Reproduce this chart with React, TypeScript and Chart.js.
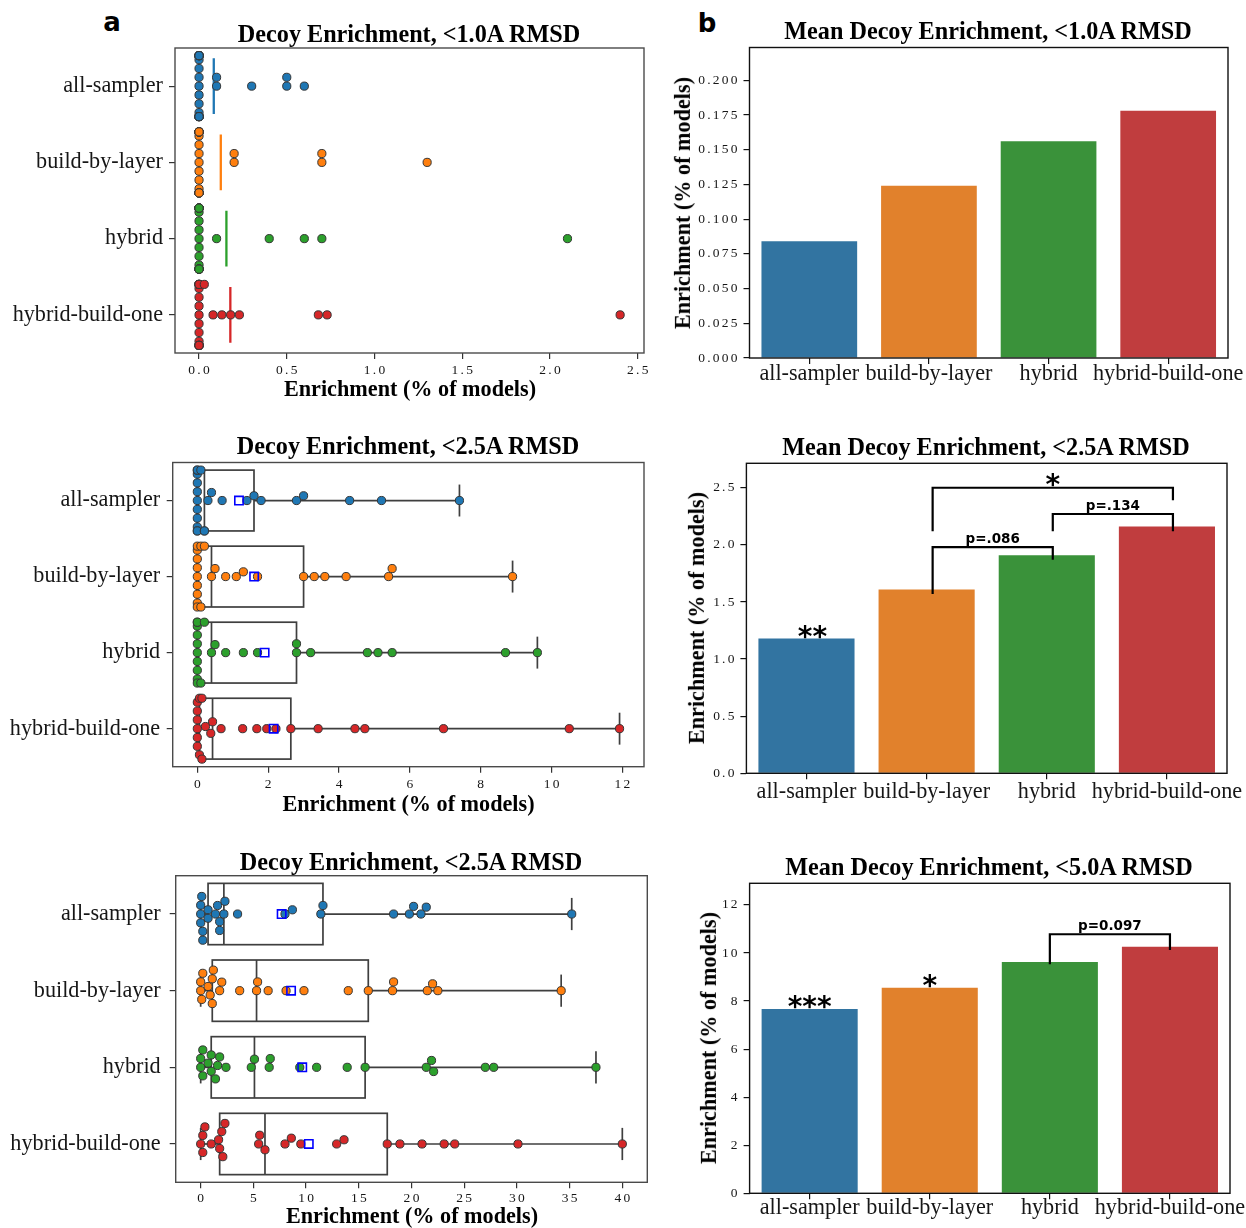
import React, { useEffect, useRef } from 'react';
import { Chart, registerables } from 'chart.js';

Chart.register(...registerables);

// ---------------- data ----------------
const categories = ['all-sampler', 'build-by-layer', 'hybrid', 'hybrid-build-one'];

// panel a (top): Decoy Enrichment, <1.0A RMSD
const allSampler10 = [0, 0, 0, 0, 0, 0, 0, 0, 0, 0, 0, 0, 0, 0, 0, 0, 0, 0, 0, 0.1, 0.1, 0.3, 0.5, 0.5, 0.6];
const buildByLayer10 = [0, 0, 0, 0, 0, 0, 0, 0, 0, 0, 0, 0, 0, 0, 0, 0, 0, 0, 0, 0, 0.2, 0.2, 0.7, 0.7, 1.3];
const hybrid10 = [0, 0, 0, 0, 0, 0, 0, 0, 0, 0, 0, 0, 0, 0, 0, 0, 0, 0, 0, 0, 0.1, 0.4, 0.6, 0.7, 2.1];
const hybridBuildOne10 = [0, 0, 0, 0, 0, 0, 0, 0, 0, 0, 0, 0, 0, 0, 0, 0, 0, 0.03, 0.08, 0.13, 0.18, 0.23, 0.68, 0.73, 2.4];

// panel a (middle): Decoy Enrichment, <2.5A RMSD
const allSampler25 = [0, 0, 0, 0, 0, 0, 0, 0, 0, 0, 0, 0.1, 0.2, 0.2, 0.3, 0.4, 0.7, 1.4, 1.6, 1.8, 2.8, 3.0, 4.3, 5.2, 7.4];
const buildByLayer25 = [0, 0, 0, 0, 0, 0, 0, 0, 0, 0.1, 0.1, 0.2, 0.4, 0.5, 0.8, 1.1, 1.3, 1.7, 3.0, 3.3, 3.6, 4.2, 5.4, 5.5, 8.9];
const hybrid25 = [0, 0, 0, 0, 0, 0, 0, 0, 0, 0, 0.1, 0.2, 0.4, 0.5, 0.8, 1.3, 1.7, 2.8, 2.8, 3.2, 4.8, 5.1, 5.5, 8.7, 9.6];
const hybridBuildOne25 = [0, 0, 0, 0, 0, 0, 0.06, 0.06, 0.13, 0.13, 0.23, 0.38, 0.43, 0.67, 1.28, 1.68, 1.96, 2.22, 2.64, 3.41, 4.45, 4.73, 6.95, 10.5, 11.92];

// panel a (bottom): titled "<2.5A RMSD" in the figure (the 5.0A data)
const allSampler50 = [0, 0, 0, 0.1, 0.2, 0.2, 0.7, 0.7, 1.4, 1.6, 1.8, 1.8, 2.2, 2.3, 3.5, 8.0, 8.7, 11.4, 11.6, 18.3, 19.8, 20.2, 20.9, 21.4, 35.2];
const buildByLayer50 = [0, 0, 0.1, 0.2, 0.7, 0.9, 1.1, 1.1, 1.2, 1.8, 2.0, 3.7, 5.3, 5.4, 6.4, 8.1, 9.8, 14.0, 15.9, 18.2, 18.3, 21.5, 22.0, 22.5, 34.2];
const hybrid50 = [0, 0, 0.2, 0.2, 0.7, 1.0, 1.0, 1.4, 1.6, 1.8, 2.4, 4.8, 5.1, 6.5, 6.6, 9.4, 11.0, 13.9, 15.6, 21.4, 21.9, 22.1, 27.0, 27.8, 37.5];
const hybridBuildOne50 = [0, 0.2, 0.2, 0.4, 1.0, 1.7, 1.8, 2.0, 2.1, 2.3, 5.5, 5.6, 6.1, 8.0, 8.6, 9.5, 12.9, 13.6, 17.7, 18.9, 21.0, 23.1, 24.1, 30.1, 40.0];

const xTicks10 = [0, 0.5, 1.0, 1.5, 2.0, 2.5];
const xTicks25 = [0, 2, 4, 6, 8, 10, 12];
const xTicks50 = [0, 5, 10, 15, 20, 25, 30, 35, 40];

// panel b: mean enrichment bars
const meanEnrich10 = [0.084, 0.124, 0.156, 0.178];
const meanEnrich25 = [1.18, 1.61, 1.91, 2.16];
const meanEnrich50 = [7.67, 8.55, 9.63, 10.26];
const yTicksB10 = [0, 0.025, 0.05, 0.075, 0.1, 0.125, 0.15, 0.175, 0.2];
const yTicksB25 = [0, 0.5, 1.0, 1.5, 2.0, 2.5];
const yTicksB50 = [0, 2, 4, 6, 8, 10, 12];

const sigStars10 = ['', '', '', ''];
const sigStars25 = ['**', '', '', ''];
const sigStars50 = ['***', '*', '', ''];

const bracketFrom25 = [1, 2, 1];
const bracketTo25 = [2, 3, 3];
const bracketTop25 = [1.98, 2.27, 2.5];
const bracketLeftEnd25 = [1.57, 2.12, 2.12];
const bracketRightEnd25 = [1.87, 2.12, 2.39];
const bracketText25 = ['p=.086', 'p=.134', '*'];

const bracketFrom50 = [2];
const bracketTo50 = [3];
const bracketTop50 = [10.78];
const bracketLeftEnd50 = [9.53];
const bracketRightEnd50 = [10.12];
const bracketText50 = ['p=0.097'];

// ---------------- styles ----------------
const pointColors = ['#1f77b4', '#ff7f0e', '#2ca02c', '#d62728'];
const barColors = ['#3274a1', '#e1812c', '#3a923a', '#c03d3e'];
const SERIF = '"Liberation Serif", "Times New Roman", serif';
const SANS = '"DejaVu Sans", sans-serif';
const SWARM_R = 4.2;
const STAR_PX = 28;
const PTEXT_PX = 13.5;

type Geom = { left: number; top: number; width: number; height: number; L: number; T: number; R: number; B: number };

function quantile(sorted: number[], p: number) {
  const pos = (sorted.length - 1) * p;
  const lo = Math.floor(pos);
  const hi = Math.ceil(pos);
  return sorted[lo] + (sorted[hi] - sorted[lo]) * (pos - lo);
}
function mean(a: number[]) {
  return a.reduce((s, v) => s + v, 0) / a.length;
}

// seaborn-like beeswarm in pixel space (offsets along the categorical axis)
function beeswarm(px: number[], r: number): number[] {
  const order = px.map((_, i) => i).sort((a, b) => px[a] - px[b] || a - b);
  const placed: { x: number; y: number }[] = [];
  const out = new Array(px.length).fill(0);
  const d = 2 * r;
  for (const i of order) {
    const x = px[i];
    const neighbors = placed.filter((p) => Math.abs(p.x - x) < d);
    const cands: number[] = [0];
    neighbors.forEach((n, k) => {
      const dx = x - n.x;
      const dy = Math.sqrt(Math.max(d * d - dx * dx, 0)) * 1.05;
      if (k % 2 === 0) cands.push(n.y - dy, n.y + dy);
      else cands.push(n.y + dy, n.y - dy);
    });
    const sorted = cands.map((c, k) => ({ c, k })).sort((a, b) => Math.abs(a.c) - Math.abs(b.c) || a.k - b.k);
    let chosen = sorted[sorted.length - 1].c;
    for (const { c } of sorted) {
      if (neighbors.every((n) => (n.x - x) ** 2 + (n.y - c) ** 2 >= d * d - 1e-6)) {
        chosen = c;
        break;
      }
    }
    placed.push({ x, y: chosen });
    out[i] = chosen;
  }
  return out;
}

function applySwarm(chart: any, groups: number[][]) {
  const xs = chart.scales.x;
  const ys = chart.scales.y;
  const pxPerCat = Math.abs(ys.getPixelForValue(1) - ys.getPixelForValue(0));
  const half = 0.4 * pxPerCat;
  groups.forEach((vals, gi) => {
    const cy = ys.getPixelForValue(gi);
    const offs = beeswarm(vals.map((v) => xs.getPixelForValue(v)), SWARM_R);
    chart.data.datasets[gi].data = vals.map((v, k) => ({
      x: v,
      y: ys.getValueForPixel(cy + Math.max(-half, Math.min(half, offs[k]))),
    }));
  });
  chart.update('none');
}

function framePlugin(color: string, lw: number) {
  return {
    id: 'frame',
    afterDatasetsDraw(chart: any) {
      const a = chart.chartArea;
      const ctx = chart.ctx;
      ctx.save();
      ctx.strokeStyle = color;
      ctx.lineWidth = lw;
      ctx.strokeRect(a.left, a.top, a.right - a.left, a.bottom - a.top);
      ctx.restore();
    },
  };
}

type TickOpts = {
  xFmt: (v: number) => string;
  xFont: string;
  xSpacing: number;
  xBaseline: number;
  yFmt: (v: number) => string;
  yFont: string;
  ySpacing: number;
  yGap: number;
};
function tickTextPlugin(o: TickOpts) {
  return {
    id: 'tickText',
    afterDraw(chart: any) {
      const ctx = chart.ctx;
      const a = chart.chartArea;
      const xs = chart.scales.x;
      const ys = chart.scales.y;
      ctx.save();
      ctx.fillStyle = '#161616';
      ctx.font = o.xFont;
      ctx.letterSpacing = `${o.xSpacing}px`;
      ctx.textAlign = 'center';
      ctx.textBaseline = 'alphabetic';
      xs.ticks.forEach((t: any, i: number) => {
        ctx.fillText(o.xFmt(t.value), xs.getPixelForTick(i) + o.xSpacing / 2, a.bottom + o.xBaseline);
      });
      ctx.font = o.yFont;
      ctx.letterSpacing = `${o.ySpacing}px`;
      ctx.textAlign = 'right';
      ctx.textBaseline = 'middle';
      ys.ticks.forEach((t: any, i: number) => {
        ctx.fillText(o.yFmt(t.value), a.left - o.yGap + o.ySpacing, ys.getPixelForTick(i));
      });
      ctx.letterSpacing = '0px';
      ctx.restore();
    },
  };
}

function boxPlugin(groups: number[][]) {
  const stats = groups.map((g) => {
    const s = [...g].sort((a, b) => a - b);
    return { min: s[0], q1: quantile(s, 0.25), med: quantile(s, 0.5), q3: quantile(s, 0.75), max: s[s.length - 1] };
  });
  return {
    id: 'boxes',
    beforeDatasetsDraw(chart: any) {
      const ctx = chart.ctx;
      const xs = chart.scales.x;
      const ys = chart.scales.y;
      ctx.save();
      ctx.strokeStyle = '#3f3f3f';
      ctx.lineWidth = 1.7;
      const seg = (x1: number, y1: number, x2: number, y2: number) => {
        ctx.beginPath();
        ctx.moveTo(x1, y1);
        ctx.lineTo(x2, y2);
        ctx.stroke();
      };
      stats.forEach((st, i) => {
        const y0 = ys.getPixelForValue(i);
        const yA = ys.getPixelForValue(i - 0.4);
        const yB = ys.getPixelForValue(i + 0.4);
        const cA = ys.getPixelForValue(i - 0.21);
        const cB = ys.getPixelForValue(i + 0.21);
        const xq1 = xs.getPixelForValue(st.q1);
        const xq3 = xs.getPixelForValue(st.q3);
        const xmed = xs.getPixelForValue(st.med);
        const xmin = xs.getPixelForValue(st.min);
        const xmax = xs.getPixelForValue(st.max);
        ctx.strokeRect(xq1, Math.min(yA, yB), xq3 - xq1, Math.abs(yB - yA));
        seg(xmed, yA, xmed, yB);
        seg(xmin, y0, xq1, y0);
        seg(xq3, y0, xmax, y0);
        seg(xmin, cA, xmin, cB);
        seg(xmax, cA, xmax, cB);
      });
      ctx.restore();
    },
  };
}

function axisCommon(color: string) {
  return {
    ticks: { display: false },
    border: { display: false },
    grid: { display: true, drawOnChartArea: false, drawTicks: true, tickLength: 6, color, lineWidth: 1.2, offset: false },
  };
}

function swarmConfig(p: {
  groups: number[][];
  xMin: number;
  xMax: number;
  xTicks: number[];
  g: Geom;
  box: boolean;
  xFmt: (v: number) => string;
  xBaseline: number;
  yGap: number;
}) {
  const { g } = p;
  const datasets: any[] = p.groups.map((vals, i) => ({
    type: 'scatter',
    data: vals.map((v) => ({ x: v, y: i })),
    pointRadius: 4.1,
    pointBackgroundColor: pointColors[i],
    pointBorderColor: '#353535',
    pointBorderWidth: 1,
    order: 2,
  }));
  if (p.box) {
    datasets.push({
      type: 'scatter',
      data: p.groups.map((vals, i) => ({ x: mean(vals), y: i })),
      pointStyle: 'rect',
      pointRadius: 5.9,
      pointBackgroundColor: 'rgba(0,0,0,0)',
      pointBorderColor: '#0000ff',
      pointBorderWidth: 1.6,
      order: 1,
    });
  } else {
    p.groups.forEach((vals, i) => {
      const m = mean(vals);
      datasets.push({
        type: 'scatter',
        data: [
          { x: m, y: i - 0.365 },
          { x: m, y: i + 0.365 },
        ],
        showLine: true,
        borderColor: pointColors[i],
        borderWidth: 2.3,
        pointRadius: 0,
        order: 3,
      });
    });
  }
  const plugins: any[] = [
    framePlugin('#4a4a4a', 1.4),
    tickTextPlugin({
      xFmt: p.xFmt,
      xFont: `13.5px ${SERIF}`,
      xSpacing: 2.3,
      xBaseline: p.xBaseline,
      yFmt: (v) => categories[v],
      yFont: `22.2px ${SERIF}`,
      ySpacing: 0,
      yGap: p.yGap,
    }),
  ];
  if (p.box) plugins.unshift(boxPlugin(p.groups));
  return {
    type: 'scatter',
    data: { datasets },
    plugins,
    options: {
      responsive: false,
      maintainAspectRatio: false,
      devicePixelRatio: 1,
      animation: false,
      events: [],
      layout: { padding: { top: g.T - g.top, right: g.left + g.width - g.R, bottom: 0, left: 0 } },
      plugins: { legend: { display: false }, tooltip: { enabled: false }, title: { display: false } },
      scales: {
        x: {
          type: 'linear',
          min: p.xMin,
          max: p.xMax,
          afterBuildTicks: (s: any) => {
            s.ticks = p.xTicks.map((v) => ({ value: v }));
          },
          afterFit: (s: any) => {
            s.height = g.top + g.height - g.B;
          },
          ...axisCommon('#333333'),
        },
        y: {
          type: 'linear',
          min: -0.5,
          max: 3.5,
          reverse: true,
          afterBuildTicks: (s: any) => {
            s.ticks = categories.map((_, i) => ({ value: i }));
          },
          afterFit: (s: any) => {
            s.width = g.L - g.left;
          },
          ...axisCommon('#333333'),
        },
      },
    },
  };
}

function annotPlugin(
  values: number[],
  stars: string[],
  br: { from: number[]; to: number[]; top: number[]; leftEnd: number[]; rightEnd: number[]; text: string[] },
  shift: number
) {
  return {
    id: 'annot',
    afterDatasetsDraw(chart: any) {
      const ctx = chart.ctx;
      const xs = chart.scales.x;
      const ys = chart.scales.y;
      const starLift = 0.53 * STAR_PX;
      ctx.save();
      ctx.fillStyle = '#000';
      ctx.strokeStyle = '#000';
      ctx.textAlign = 'center';
      ctx.textBaseline = 'alphabetic';
      stars.forEach((s, i) => {
        if (!s) return;
        ctx.font = `bold ${STAR_PX}px ${SANS}`;
        ctx.fillText(s, xs.getPixelForValue(i + shift), ys.getPixelForValue(values[i]) - 7.5 + starLift);
      });
      br.from.forEach((f, k) => {
        const x1 = xs.getPixelForValue(f + shift);
        const x2 = xs.getPixelForValue(br.to[k] + shift);
        const yt = ys.getPixelForValue(br.top[k]);
        ctx.lineWidth = 2.2;
        ctx.lineJoin = 'miter';
        ctx.beginPath();
        ctx.moveTo(x1, ys.getPixelForValue(br.leftEnd[k]));
        ctx.lineTo(x1, yt);
        ctx.lineTo(x2, yt);
        ctx.lineTo(x2, ys.getPixelForValue(br.rightEnd[k]));
        ctx.stroke();
        const t = br.text[k];
        if (t.startsWith('p')) {
          ctx.font = `bold ${PTEXT_PX}px ${SANS}`;
          ctx.fillText(t, (x1 + x2) / 2, yt - 4.5);
        } else {
          ctx.font = `bold ${STAR_PX}px ${SANS}`;
          ctx.fillText(t, (x1 + x2) / 2, yt - 9 + starLift);
        }
      });
      ctx.restore();
    },
  };
}

function barConfig(p: {
  values: number[];
  yMax: number;
  yTicks: number[];
  yFmt: (v: number) => string;
  g: Geom;
  xBaseline: number;
  stars: string[];
  br: { from: number[]; to: number[]; top: number[]; leftEnd: number[]; rightEnd: number[]; text: string[] };
  shift: number;
}) {
  const { g } = p;
  return {
    type: 'bar',
    data: {
      labels: categories,
      datasets: [
        {
          data: p.values,
          backgroundColor: barColors,
          borderWidth: 0,
          barPercentage: 0.8,
          categoryPercentage: 1.0,
        },
      ],
    },
    plugins: [
      annotPlugin(p.values, p.stars, p.br, p.shift),
      framePlugin('#111111', 1.4),
      tickTextPlugin({
        xFmt: (v) => categories[v],
        xFont: `22.2px ${SERIF}`,
        xSpacing: 0,
        xBaseline: p.xBaseline,
        yFmt: p.yFmt,
        yFont: `13.5px ${SERIF}`,
        ySpacing: 2.2,
        yGap: 12,
      }),
    ],
    options: {
      responsive: false,
      maintainAspectRatio: false,
      devicePixelRatio: 1,
      animation: false,
      events: [],
      layout: { padding: { top: g.T - g.top, right: g.left + g.width - g.R, bottom: 0, left: 0 } },
      plugins: { legend: { display: false }, tooltip: { enabled: false }, title: { display: false } },
      scales: {
        x: {
          type: 'category',
          offset: true,
          afterFit: (s: any) => {
            s.height = g.top + g.height - g.B;
          },
          ...axisCommon('#111111'),
        },
        y: {
          type: 'linear',
          min: 0,
          max: p.yMax,
          afterBuildTicks: (s: any) => {
            s.ticks = p.yTicks.map((v) => ({ value: v }));
          },
          afterFit: (s: any) => {
            s.width = g.L - g.left;
          },
          ...axisCommon('#111111'),
        },
      },
    },
  };
}

function ChartBox({ g, build, after }: { g: Geom; build: () => any; after?: (c: any) => void }) {
  const ref = useRef<HTMLCanvasElement>(null);
  useEffect(() => {
    const chart = new Chart(ref.current as HTMLCanvasElement, build());
    if (after) after(chart);
    return () => chart.destroy();
  }, []);
  return (
    <canvas
      ref={ref}
      width={g.width}
      height={g.height}
      style={{ position: 'absolute', left: g.left, top: g.top, width: g.width, height: g.height }}
    />
  );
}

function Txt({
  x,
  base,
  size,
  family,
  bold,
  asc,
  children,
}: {
  x: number;
  base: number;
  size: number;
  family: string;
  bold?: boolean;
  asc: number;
  children: React.ReactNode;
}) {
  return (
    <div
      style={{
        position: 'absolute',
        left: x,
        top: base - asc * size,
        fontSize: size,
        lineHeight: `${size}px`,
        fontFamily: family,
        fontWeight: bold ? 700 : 400,
        whiteSpace: 'nowrap',
        color: '#000',
        transform: 'translateX(-50%)',
      }}
    >
      {children}
    </div>
  );
}

function VTxt({ cx, cy, size, children }: { cx: number; cy: number; size: number; children: React.ReactNode }) {
  return (
    <div
      style={{
        position: 'absolute',
        left: cx - 200,
        top: cy - size / 2,
        width: 400,
        height: size,
        lineHeight: `${size}px`,
        fontSize: size,
        fontFamily: SERIF,
        fontWeight: 700,
        textAlign: 'center',
        whiteSpace: 'nowrap',
        color: '#000',
        transform: 'rotate(-90deg)',
      }}
    >
      {children}
    </div>
  );
}

const gA1: Geom = { left: 0, top: 40, width: 660, height: 350, L: 175, T: 48, R: 644, B: 353 };
const gA2: Geom = { left: 0, top: 455, width: 660, height: 345, L: 172.7, T: 461.7, R: 644, B: 766.7 };
const gA3: Geom = { left: 0, top: 868, width: 660, height: 340, L: 175.7, T: 875.7, R: 647.3, B: 1182.3 };
const gB1: Geom = { left: 690, top: 40, width: 556, height: 350, L: 749.5, T: 47.5, R: 1228, B: 358 };
const gB2: Geom = { left: 690, top: 456, width: 556, height: 350, L: 746.4, T: 463.3, R: 1227, B: 773.3 };
const gB3: Geom = { left: 690, top: 876, width: 556, height: 352, L: 749.6, T: 883.3, R: 1230, B: 1193.3 };

const ASC_SERIF = 0.8375;
const ASC_SANS = 0.846;

export default function App() {
  const groups10 = [allSampler10, buildByLayer10, hybrid10, hybridBuildOne10];
  const groups25 = [allSampler25, buildByLayer25, hybrid25, hybridBuildOne25];
  const groups50 = [allSampler50, buildByLayer50, hybrid50, hybridBuildOne50];
  return (
    <div style={{ position: 'absolute', left: 0, top: 0, width: 1246, height: 1228, background: '#fff', overflow: 'hidden' }}>
      <ChartBox
        g={gA1}
        build={() =>
          swarmConfig({ groups: groups10, xMin: -0.137, xMax: 2.536, xTicks: xTicks10, g: gA1, box: false, xFmt: (v) => v.toFixed(1), xBaseline: 21, yGap: 12 })
        }
        after={(c) => applySwarm(c, groups10)}
      />
      <ChartBox
        g={gA2}
        build={() =>
          swarmConfig({ groups: groups25, xMin: -0.695, xMax: 12.61, xTicks: xTicks25, g: gA2, box: true, xFmt: (v) => String(v), xBaseline: 21.5, yGap: 12.5 })
        }
        after={(c) => applySwarm(c, groups25)}
      />
      <ChartBox
        g={gA3}
        build={() =>
          swarmConfig({ groups: groups50, xMin: -2.37, xMax: 42.37, xTicks: xTicks50, g: gA3, box: true, xFmt: (v) => String(v), xBaseline: 19.4, yGap: 15 })
        }
        after={(c) => applySwarm(c, groups50)}
      />
      <ChartBox
        g={gB1}
        build={() =>
          barConfig({
            values: meanEnrich10,
            yMax: 0.2236,
            yTicks: yTicksB10,
            yFmt: (v) => v.toFixed(3),
            g: gB1,
            xBaseline: 22,
            stars: sigStars10,
            br: { from: [], to: [], top: [], leftEnd: [], rightEnd: [], text: [] },
            shift: 0,
          })
        }
      />
      <ChartBox
        g={gB2}
        build={() =>
          barConfig({
            values: meanEnrich25,
            yMax: 2.714,
            yTicks: yTicksB25,
            yFmt: (v) => v.toFixed(1),
            g: gB2,
            xBaseline: 24.5,
            stars: sigStars25,
            br: { from: bracketFrom25, to: bracketTo25, top: bracketTop25, leftEnd: bracketLeftEnd25, rightEnd: bracketRightEnd25, text: bracketText25 },
            shift: 0.05,
          })
        }
      />
      <ChartBox
        g={gB3}
        build={() =>
          barConfig({
            values: meanEnrich50,
            yMax: 12.9,
            yTicks: yTicksB50,
            yFmt: (v) => String(v),
            g: gB3,
            xBaseline: 20.5,
            stars: sigStars50,
            br: { from: bracketFrom50, to: bracketTo50, top: bracketTop50, leftEnd: bracketLeftEnd50, rightEnd: bracketRightEnd50, text: bracketText50 },
            shift: 0,
          })
        }
      />

      <Txt x={112} base={31} size={26} family={SANS} bold asc={ASC_SANS}>a</Txt>
      <Txt x={707} base={32} size={26} family={SANS} bold asc={ASC_SANS}>b</Txt>

      <Txt x={409} base={42} size={24.2} family={SERIF} bold asc={ASC_SERIF}>Decoy Enrichment, &lt;1.0A RMSD</Txt>
      <Txt x={408} base={454} size={24.2} family={SERIF} bold asc={ASC_SERIF}>Decoy Enrichment, &lt;2.5A RMSD</Txt>
      <Txt x={411} base={870} size={24.2} family={SERIF} bold asc={ASC_SERIF}>Decoy Enrichment, &lt;2.5A RMSD</Txt>
      <Txt x={988} base={39} size={24.2} family={SERIF} bold asc={ASC_SERIF}>Mean Decoy Enrichment, &lt;1.0A RMSD</Txt>
      <Txt x={986} base={455} size={24.2} family={SERIF} bold asc={ASC_SERIF}>Mean Decoy Enrichment, &lt;2.5A RMSD</Txt>
      <Txt x={989} base={875} size={24.2} family={SERIF} bold asc={ASC_SERIF}>Mean Decoy Enrichment, &lt;5.0A RMSD</Txt>

      <Txt x={410} base={397} size={22.2} family={SERIF} bold asc={ASC_SERIF}>Enrichment (% of models)</Txt>
      <Txt x={408.5} base={812} size={22.2} family={SERIF} bold asc={ASC_SERIF}>Enrichment (% of models)</Txt>
      <Txt x={412} base={1224} size={22.2} family={SERIF} bold asc={ASC_SERIF}>Enrichment (% of models)</Txt>

      <VTxt cx={683} cy={203} size={22.2}>Enrichment (% of models)</VTxt>
      <VTxt cx={697} cy={618} size={22.2}>Enrichment (% of models)</VTxt>
      <VTxt cx={709} cy={1038} size={22.2}>Enrichment (% of models)</VTxt>
    </div>
  );
}
